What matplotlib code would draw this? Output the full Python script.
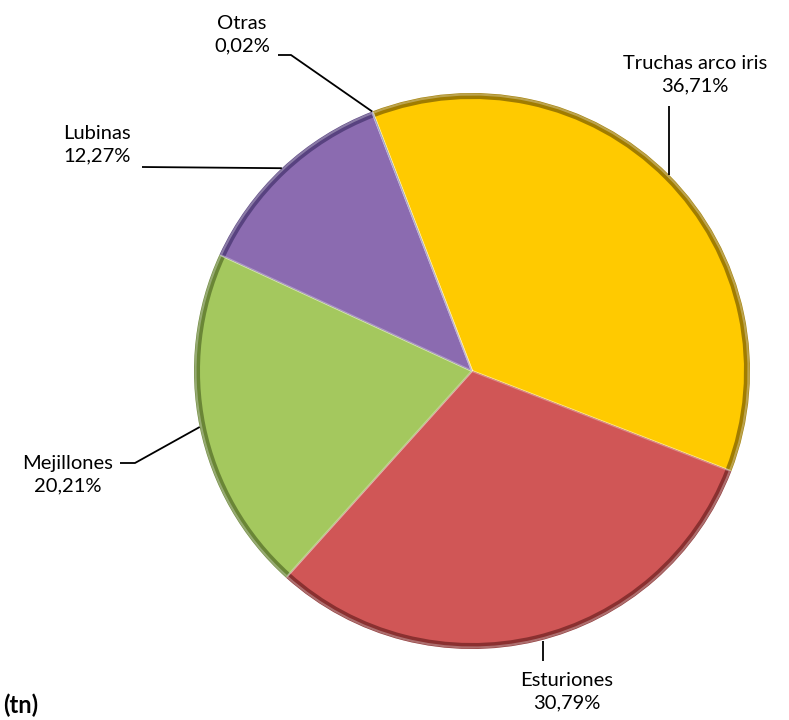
import numpy as np
import matplotlib.pyplot as plt
from matplotlib.patches import Wedge

# Datos
especies = ['Truchas arco iris', 'Esturiones', 'Mejillones', 'Lubinas', 'Otras']
porcentajes = [36.71, 30.79, 20.21, 12.27, 0.02]
etiquetas = ['36,71%', '30,79%', '20,21%', '12,27%', '0,02%']
colores = ['#FFCA00', '#D05656', '#A4C85E', '#8B6BB0', '#4F81BD']
bordes = ['#A07C00', '#8A3030', '#6A8636', '#584280', '#2F5080']

plt.rcParams['font.family'] = ['Lato', 'DejaVu Sans']

W, H = 789, 720
fig = plt.figure(figsize=(W / 100, H / 100), dpi=100)
ax = fig.add_axes([0, 0, 1, 1])
ax.set_xlim(0, W)
ax.set_ylim(H, 0)
ax.axis('off')

# pie en coordenadas de pixel (y hacia abajo)
cx, cy, r = 472, 371, 278
inicio = 111.0
angulos = []
a = inicio
for p in porcentajes:
    a2 = a - p * 3.6
    angulos.append((a2, a))
    a = a2

for (t1, t2), c, b in zip(angulos, colores, bordes):
    # y invertida -> angulos negados
    w = Wedge((cx, cy), r, -t2, -t1, facecolor=b, edgecolor='none')
    ax.add_patch(w)
    w2 = Wedge((cx, cy), r - 6, -t2, -t1, facecolor=c, edgecolor=c,
               linewidth=0)
    ax.add_patch(w2)
    w3 = Wedge((cx, cy), r - 1.5, -t2, -t1, facecolor='none',
               edgecolor='#FFFFFF', linewidth=1.5, alpha=0.3)
    ax.add_patch(w3)


def borde(i):
    t1, t2 = angulos[i]
    m = np.deg2rad((t1 + t2) / 2)
    return cx + r * np.cos(m), cy - r * np.sin(m)


# posiciones de etiquetas (centro del texto) y puntos de la guia
pos_texto = [(695, 75), (567, 692), (68, 475), (97, 145), (242, 35)]
guias = [
    [(669, 106)],
    [(543, 661)],
    [(120, 463), (135, 463)],
    [(142, 167)],
    [(278, 55), (291, 55)],
]

for i in range(len(especies)):
    x, y = pos_texto[i]
    ax.text(x, y, especies[i] + '\n' + etiquetas[i], ha='center', va='center',
            fontsize=14.5, linespacing=1.4, color='#000000')
    ex, ey = borde(i)
    pts = guias[i] + [(ex, ey)]
    if i in (0, 1):
        pts = [guias[i][0], (guias[i][0][0], ey)]
    xs = [p[0] for p in pts]
    ys = [p[1] for p in pts]
    ax.plot(xs, ys, color='black', linewidth=1.3, solid_capstyle='butt')

ax.text(3, 713, '(tn)', ha='left', va='baseline', fontsize=17,
        fontweight='bold')

fig.savefig('out.png', dpi=100)
